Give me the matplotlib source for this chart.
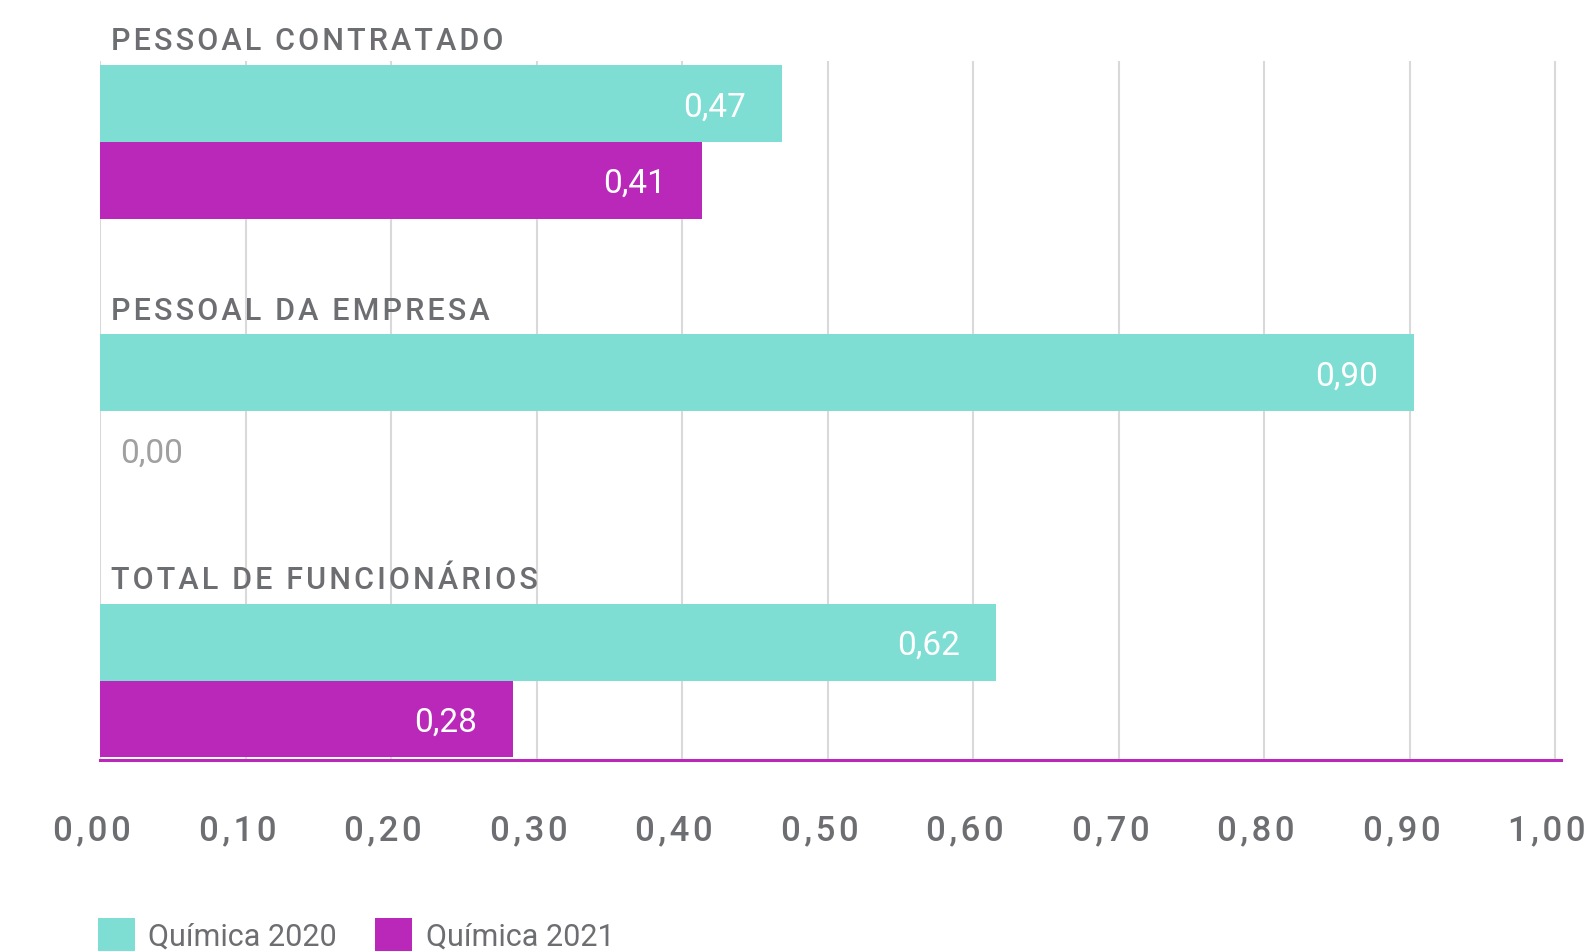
import matplotlib
matplotlib.use("Agg")
import matplotlib.pyplot as plt
import matplotlib.transforms as mtransforms
import numpy as np

plt.rcParams['font.family'] = ['Roboto', 'DejaVu Sans']

# dados
categorias = ['PESSOAL CONTRATADO', 'PESSOAL DA EMPRESA', 'TOTAL DE FUNCIONÁRIOS']
quimica_2020 = [0.469, 0.903, 0.616]
quimica_2021 = [0.414, 0.000, 0.284]
series_nomes = ['Química 2020', 'Química 2021']
ticks_x = [0.0, 0.1, 0.2, 0.3, 0.4, 0.5, 0.6, 0.7, 0.8, 0.9, 1.0]

cor_2020 = '#7fded4'
cor_2021 = '#ba28ba'
cinza_txt = '#6d6e71'
cinza_grid = '#d9d9d9'


def espacado(s):
    # simula o espacamento entre letras da fonte original
    return '\u200a'.join(s)


def fmt(v):
    return f'{v:.2f}'.replace('.', ',')


fig = plt.figure(figsize=(15.89, 9.51), dpi=100)
ax = fig.add_axes([100 / 1589, 1 - 760 / 951, (1561 - 100) / 1589, (760 - 61) / 951])

pos = np.arange(len(categorias))
alt = 0.285
b1 = ax.barh(pos - alt / 2, quimica_2020, height=alt, color=cor_2020, zorder=2, label=series_nomes[0])
b2 = ax.barh(pos + alt / 2, quimica_2021, height=alt, color=cor_2021, zorder=2, label=series_nomes[1])

ax.set_xlim(0, 1.0041)
ax.set_ylim(2.295, -0.30)

# rotulos dos valores
for barras in (b1, b2):
    for r in barras:
        v = r.get_width()
        yc = r.get_y() + r.get_height() / 2 + 0.014
        if v > 0.05:
            ax.text(v - 0.025, yc, fmt(v), ha='right', va='center', color='white',
                    fontsize=24, fontweight='normal', zorder=3)
        else:
            ax.text(v + 0.014, yc, fmt(v), ha='left', va='center', color='#a0a0a0',
                    fontsize=24, fontweight='normal', zorder=3)

# nomes das categorias acima de cada grupo
for p, nome in zip(pos, categorias):
    ax.text(0.0077, p - 0.340, espacado(nome), ha='left', va='baseline', color=cinza_txt,
            fontsize=22, fontweight='medium', clip_on=False)

ax.set_xticks(ticks_x)
ax.set_xticklabels([espacado(fmt(t)) for t in ticks_x], fontsize=25, fontweight='medium',
                   color=cinza_txt)
ax.tick_params(axis='x', length=0, pad=39)
ax.set_yticks([])

# rotulos do eixo levemente deslocados para a esquerda, como no original
desloc = mtransforms.ScaledTranslation(-8 / 100, 0, fig.dpi_scale_trans)
for lbl in ax.get_xticklabels():
    lbl.set_transform(lbl.get_transform() + desloc)

ax.grid(axis='x', color=cinza_grid, linewidth=1.5)
ax.set_axisbelow(True)
for s in ('top', 'left', 'right'):
    ax.spines[s].set_visible(False)
ax.spines['bottom'].set_color(cor_2021)
ax.spines['bottom'].set_linewidth(2.2)
ax.spines['bottom'].set_zorder(4)

leg = fig.legend(handles=[b1, b2], labels=series_nomes, loc='center left',
                 bbox_to_anchor=(98 / 1589, 1 - 935 / 951), ncol=2, frameon=False,
                 fontsize=22, handlelength=1.2, handleheight=1.3, handletextpad=0.45,
                 columnspacing=1.25, borderpad=0, borderaxespad=0)
for t in leg.get_texts():
    t.set_color(cinza_txt)
    t.set_fontweight('normal')

fig.savefig('out.png', dpi=100)
